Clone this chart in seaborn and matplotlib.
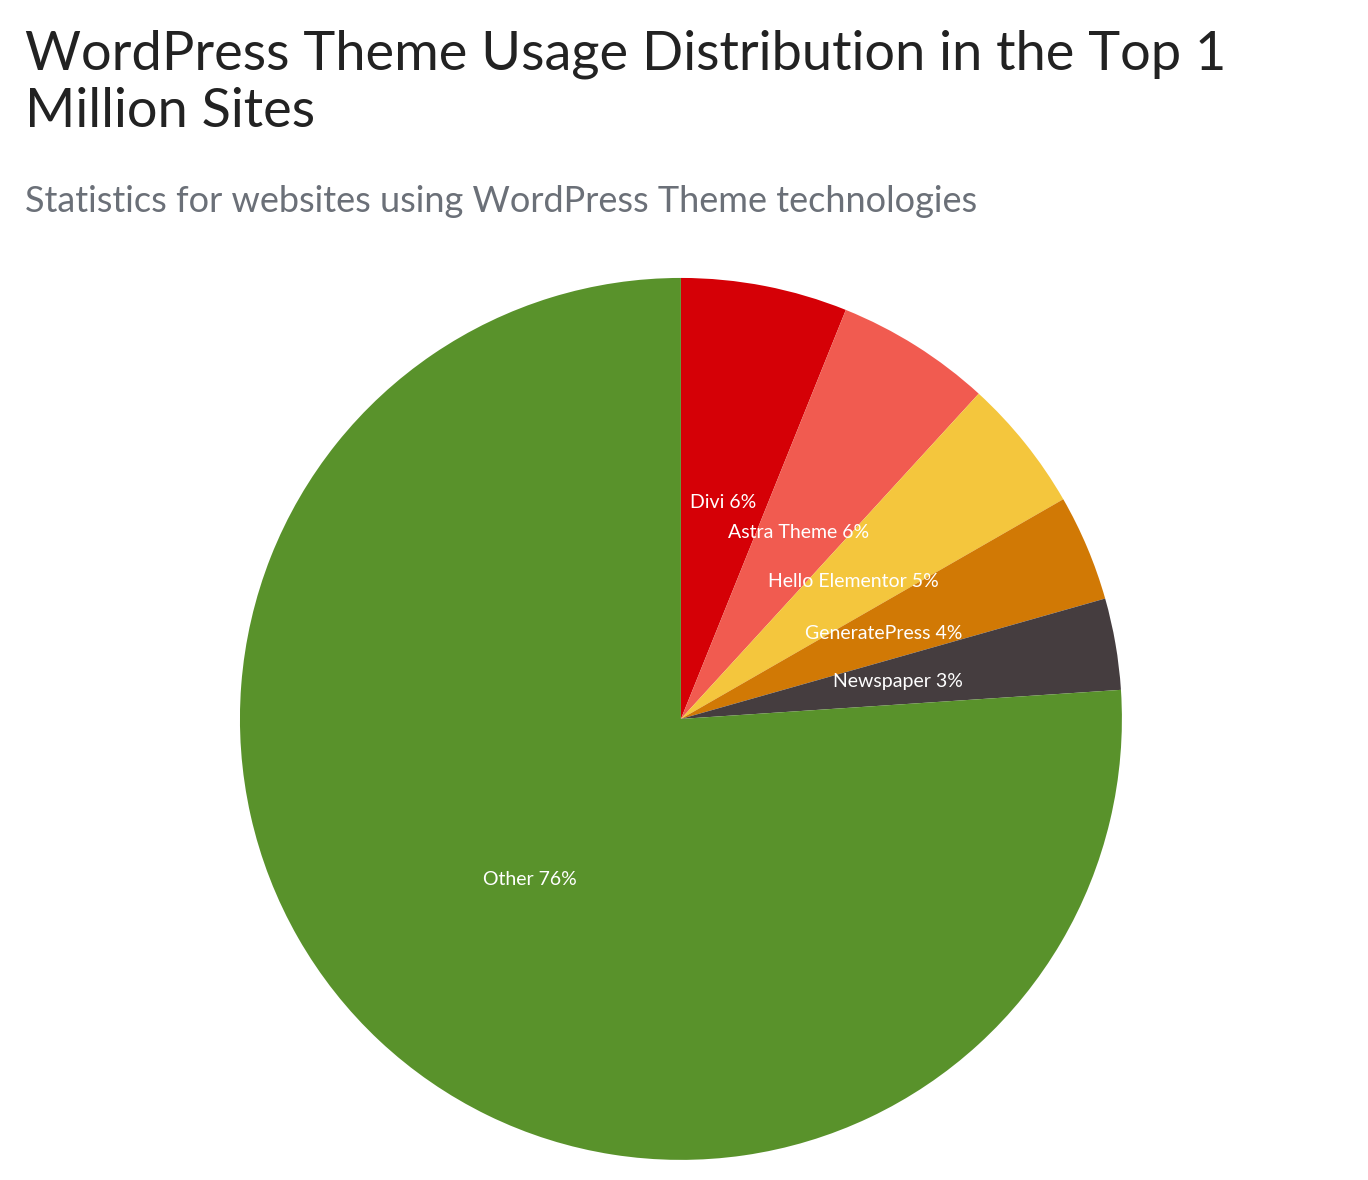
import matplotlib
matplotlib.use("Agg")
import matplotlib.pyplot as plt
import seaborn as sns

# data
themes = ["Divi", "Astra Theme", "Hello Elementor", "GeneratePress", "Newspaper", "Other"]
shares = [6.1, 5.7, 4.9, 3.9, 3.35, 76.05]
label_pct = ["6%", "6%", "5%", "4%", "3%", "76%"]
colors = ["#d50006", "#f15b50", "#f4c63d", "#d17905", "#453d3f", "#59922b"]

sns.set_theme(style="white", font="Lato")

fig = plt.figure(figsize=(13.68, 11.8), dpi=100)
ax = fig.add_axes([0.1754, 0.0170, 0.6447, 0.7475])

labels = [f"{t} {p}" for t, p in zip(themes, label_pct)]
wedges, texts = ax.pie(shares, labels=labels, colors=sns.color_palette(colors),
                       startangle=90, counterclock=False, labeldistance=0.5,
                       wedgeprops=dict(linewidth=0, edgecolor="none"),
                       textprops=dict(color="white", fontsize=14))
for t in texts:
    t.set_horizontalalignment("center")
ax.set_xlim(-1, 1)
ax.set_ylim(-1, 1)
ax.set_aspect("equal")

fig.text(0.018, 0.975, "WordPress Theme Usage Distribution in the Top 1\nMillion Sites",
         fontsize=39, color="#222222", va="top", ha="left", linespacing=1.2)
fig.text(0.018, 0.829, "Statistics for websites using WordPress Theme technologies",
         fontsize=26, color="#6b7078", va="center", ha="left")

fig.savefig("out.png", dpi=100)
